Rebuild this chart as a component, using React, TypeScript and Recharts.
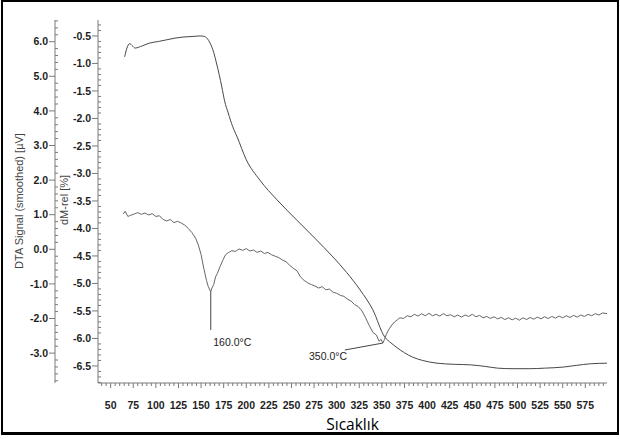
import {
  ComposedChart, Line, XAxis, YAxis, ReferenceArea, ReferenceLine, ReferenceDot, Label,
} from "recharts";

// TG curve (dM-rel, %)
const tgTemp = [65.5, 68, 71, 74, 77, 85, 93, 103, 112, 121, 130, 140, 149, 154, 157, 160, 164, 167, 170, 173, 176, 180, 185, 190, 200, 215, 234, 256, 276, 296, 311, 326, 340, 353, 360, 367, 375, 384, 395, 411, 430, 448, 465, 478, 495, 514, 530, 551, 565, 581, 599];
const tgValue = [-0.88, -0.72, -0.64, -0.68, -0.72, -0.68, -0.63, -0.6, -0.57, -0.54, -0.52, -0.51, -0.5, -0.51, -0.55, -0.63, -0.8, -0.99, -1.2, -1.43, -1.68, -1.9, -2.15, -2.34, -2.75, -3.12, -3.48, -3.85, -4.18, -4.52, -4.8, -5.12, -5.48, -5.97, -6.08, -6.17, -6.26, -6.34, -6.4, -6.45, -6.47, -6.48, -6.51, -6.54, -6.55, -6.55, -6.54, -6.52, -6.49, -6.46, -6.45];

// DTA signal (smoothed, µV)
const dtaTemp = [64, 66, 69, 72, 76, 80, 84, 88, 92, 96, 100, 104, 108, 112, 116, 120, 124, 128, 132, 136, 140, 144, 147, 150, 153, 156, 158, 160.7, 162, 164, 166, 168, 171, 174, 177, 180, 184, 188, 192, 196, 200, 204, 208, 212, 216, 220, 224, 228, 232, 236, 240, 244, 248, 252, 256, 260, 264, 268, 272, 276, 280, 284, 288, 292, 296, 300, 304, 308, 312, 316, 320, 324, 328, 332, 336, 340, 344, 347, 349, 351, 353, 355, 358, 361, 364, 367, 370, 374, 378, 382, 386, 390, 394, 398, 402, 406, 410, 414, 418, 422, 426, 430, 434, 438, 442, 446, 450, 454, 458, 462, 466, 470, 474, 478, 482, 486, 490, 494, 498, 502, 506, 510, 514, 518, 522, 526, 530, 534, 538, 542, 546, 550, 554, 558, 562, 566, 570, 574, 578, 582, 586, 590, 594, 599];
const dtaValue = [1.02, 1.1, 0.95, 0.98, 1.02, 1.06, 1.01, 1.05, 0.99, 1.03, 0.95, 0.97, 0.86, 0.82, 0.86, 0.77, 0.81, 0.76, 0.7, 0.6, 0.48, 0.32, 0.12, -0.15, -0.55, -0.9, -1.08, -1.23, -1.12, -1.02, -0.8, -0.7, -0.5, -0.32, -0.16, -0.1, -0.04, -0.06, 0.01, -0.03, 0.02, -0.05, -0.02, -0.09, -0.05, -0.12, -0.09, -0.16, -0.2, -0.24, -0.31, -0.36, -0.46, -0.55, -0.62, -0.8, -0.9, -0.97, -1.02, -1.06, -1.12, -1.08, -1.17, -1.15, -1.24, -1.27, -1.33, -1.36, -1.44, -1.5, -1.6, -1.66, -1.78, -1.98, -2.2, -2.4, -2.48, -2.66, -2.6, -2.71, -2.6, -2.45, -2.3, -2.19, -2.1, -2.04, -1.98, -2.0, -1.92, -1.95, -1.88, -1.93, -1.86, -1.92, -1.85, -1.92, -1.88, -1.93, -1.86, -1.92, -1.89, -1.95, -1.9, -1.96, -1.9, -1.94, -1.88, -1.95, -1.91, -1.98, -1.94, -2.0, -1.95, -2.01, -1.97, -2.03, -1.98, -2.04, -1.99, -2.05, -1.98, -2.03, -1.97, -2.02, -1.96, -2.01, -1.95, -2.0, -1.94, -1.99, -1.93, -1.98, -1.92, -1.97, -1.91, -1.96, -1.9, -1.94, -1.88, -1.92, -1.86, -1.9, -1.84, -1.86];

const xMajor = [50, 75, 100, 125, 150, 175, 200, 225, 250, 275, 300, 325, 350, 375, 400, 425, 450, 475, 500, 525, 550, 575];
const tgMajor = [-0.5, -1.0, -1.5, -2.0, -2.5, -3.0, -3.5, -4.0, -4.5, -5.0, -5.5, -6.0, -6.5];
const dtaMajor = [6.0, 5.0, 4.0, 3.0, 2.0, 1.0, 0.0, -1.0, -2.0, -3.0];

const steps = (from: number, to: number, step: number) => {
  const out: number[] = [];
  for (let i = 0; from + i * step <= to + 1e-9; i++) out.push(+(from + i * step).toFixed(2));
  return out;
};

const xTicks = steps(40, 595, 5);
const tgTicks = steps(-6.8, -0.3, 0.1);
const dtaTicks = steps(-3.8, 6.6, 0.2);

const FONT = "'Liberation Sans', Arial, sans-serif";
const AXIS = "#7a7a7a";
const INK = "#1e1e1e";

const tgData = tgTemp.map((t, i) => ({ t, v: tgValue[i] }));
const dtaData = dtaTemp.map((t, i) => ({ t, v: dtaValue[i] }));

const isIn = (list: number[], v: number) => list.some((m) => Math.abs(m - v) < 1e-6);

function YTick(props: any) {
  const { x, y, payload, majors } = props;
  const v = payload.value as number;
  if (!isIn(majors, v)) return <line x1={x} x2={x + 3} y1={y} y2={y} stroke={AXIS} strokeWidth={1} />;
  return (
    <g>
      <line x1={x - 6} x2={x} y1={y} y2={y} stroke={AXIS} strokeWidth={1} />
      <text x={x - 7} y={y} dy="0.36em" textAnchor="end" fontFamily={FONT} fontWeight="bold" fontSize={10.5} fill={INK}>
        {v.toFixed(1)}
      </text>
    </g>
  );
}

function XTick(props: any) {
  const { x, y, payload } = props;
  const v = payload.value as number;
  const major = isIn(xMajor, v);
  return (
    <g>
      <line x1={x} x2={x} y1={y} y2={y + (major ? 5 : 3)} stroke={AXIS} strokeWidth={1} />
      {major && (
        <text x={x} y={409} textAnchor="middle" fontFamily={FONT} fontWeight="bold" fontSize={10.5} fill={INK}>
          {v}
        </text>
      )}
    </g>
  );
}

const titleStyle = (left: number, top: number): React.CSSProperties => ({
  position: "absolute", left, top, transform: "translate(-50%, -50%) rotate(-90deg)",
  whiteSpace: "nowrap", fontFamily: FONT, fontSize: 11, color: "#444", lineHeight: "12px",
});

// axis ids: "inner" = dM-rel (next to the plot), "outer" = DTA signal
export default function App() {
  return (
    <div style={{ position: "absolute", left: 0, top: 0, width: 620, height: 439, background: "#fff", overflow: "hidden" }}>
      <div style={{ position: "absolute", left: 0, top: 0 }}>
        <ComposedChart width={620} height={439} margin={{ top: 20, right: 13, bottom: 20, left: 5 }}>
          <XAxis
            dataKey="t" type="number" domain={[36, 599]} allowDataOverflow
            ticks={xTicks} interval={0} tickSize={0} tickMargin={0}
            tick={(p: any) => <XTick {...p} />} height={36} stroke={AXIS}
          >
            <Label value="Sıcaklık" position="bottom" offset={0} fontFamily="'Open Sans', sans-serif" fontSize={15.5} fill="#000" />
          </XAxis>
          <YAxis
            yAxisId="inner" type="number" domain={[-6.81, -0.21]} allowDataOverflow width={43}
            ticks={tgTicks} interval={0} tickSize={0} tickMargin={0} stroke={AXIS}
            tick={(p: any) => <YTick {...p} majors={tgMajor} />}
          />
          <YAxis
            yAxisId="outer" type="number" domain={[-3.864, 6.627]} allowDataOverflow width={50}
            ticks={dtaTicks} interval={0} tickSize={0} tickMargin={0} stroke={AXIS}
            tick={(p: any) => <YTick {...p} majors={dtaMajor} />}
          />
          <ReferenceArea yAxisId="outer" fill="none" stroke="#8c8c8c" strokeWidth={1} ifOverflow="visible" />
          <Line data={tgData} yAxisId="inner" dataKey="v" type="monotone" stroke="#474747" strokeWidth={1} dot={false} isAnimationActive={false} />
          <Line data={dtaData} yAxisId="outer" dataKey="v" type="linear" stroke="#666" strokeWidth={1} dot={false} isAnimationActive={false} />
          <ReferenceLine yAxisId="outer" segment={[{ x: 160.7, y: -1.23 }, { x: 160.7, y: -2.33 }]} stroke="#444" strokeWidth={1} ifOverflow="visible" />
          <ReferenceLine yAxisId="outer" segment={[{ x: 351, y: -2.71 }, { x: 309, y: -2.91 }]} stroke="#444" strokeWidth={1} ifOverflow="visible" />
          <ReferenceDot yAxisId="outer" x={163.5} y={-2.68} r={0.01} fill="none" stroke="none"
            label={{ value: "160.0°C", position: "right", offset: 0, fontFamily: FONT, fontSize: 10.5, fill: "#222" }} />
          <ReferenceDot yAxisId="outer" x={311.5} y={-3.09} r={0.01} fill="none" stroke="none"
            label={{ value: "350.0°C", position: "left", offset: 0, fontFamily: FONT, fontSize: 10.5, fill: "#222" }} />
        </ComposedChart>
      </div>
      <div style={titleStyle(19, 201)}>DTA Signal (smoothed) [µV]</div>
      <div style={titleStyle(64, 200)}>dM-rel [%]</div>
      <div style={{
        position: "absolute", left: 1, top: 0, width: 618, height: 435, boxSizing: "border-box",
        borderTop: "2px solid #000", borderLeft: "2px solid #000", borderRight: "2px solid #000", borderBottom: "3px solid #000",
        pointerEvents: "none",
      }} />
    </div>
  );
}
